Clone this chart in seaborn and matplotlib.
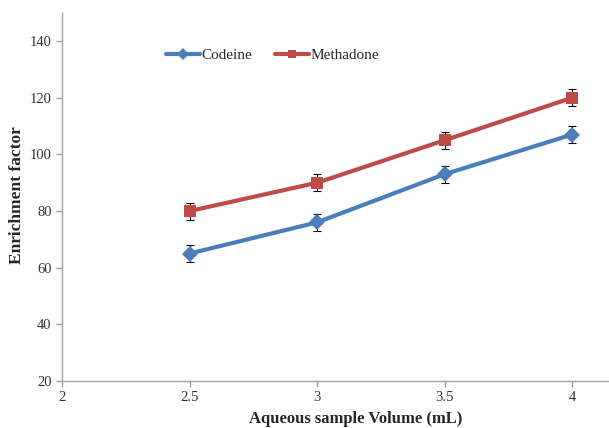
import pandas as pd
import matplotlib
matplotlib.use("Agg")
import matplotlib.pyplot as plt
import seaborn as sns

# dados
volume = [2.5, 3.0, 3.5, 4.0]
codeine = [65, 76, 93, 107]
methadone = [80, 90, 105, 120]
codeine_err = [3, 3, 3, 3]
methadone_err = [3, 3, 3, 3]

sns.set_style("white")
plt.rcParams['font.family'] = ['Liberation Serif', 'DejaVu Serif']

df = pd.DataFrame({
    "volume": volume * 2,
    "ef": codeine + methadone,
    "droga": ["Codeine"] * 4 + ["Methadone"] * 4,
})

fig = plt.figure(figsize=(6.09, 4.28), dpi=100)
ax = fig.add_axes([0.102, 0.110, 0.898, 0.860])

cores = {"Codeine": "#4A7EBB", "Methadone": "#BE4B48"}

# barras de erro primeiro, linhas por cima
ax.errorbar(volume, codeine, yerr=codeine_err, fmt="none", ecolor="black",
            elinewidth=0.8, capsize=3, capthick=0.8, zorder=2)
ax.errorbar(volume, methadone, yerr=methadone_err, fmt="none", ecolor="black",
            elinewidth=0.8, capsize=3, capthick=0.8, zorder=2)

sns.lineplot(data=df, x="volume", y="ef", hue="droga", style="droga",
             markers={"Codeine": "D", "Methadone": "s"}, dashes=False,
             palette=cores, linewidth=3, markersize=8, markeredgewidth=0,
             ax=ax, zorder=3)

ax.set_xlim(2, 4.145)
ax.set_ylim(20, 150)
ax.set_xticks([2, 2.5, 3, 3.5, 4])
ax.set_xticklabels(["2", "2.5", "3", "3.5", "4"])
ax.set_yticks([20, 40, 60, 80, 100, 120, 140])

ax.set_xlabel("Aqueous sample Volume (mL)", fontsize=12, fontweight="bold", va="center")
ax.set_ylabel("Enrichment factor", fontsize=12.5, fontweight="bold", va="center")
ax.xaxis.set_label_coords(0.537, -0.103)
ax.yaxis.set_label_coords(-0.082, 0.505)

for lado in ["top", "right"]:
    ax.spines[lado].set_visible(False)
for lado in ["left", "bottom"]:
    ax.spines[lado].set_color("#A0A0A0")
    ax.spines[lado].set_linewidth(1)
ax.tick_params(axis="both", direction="out", length=4, width=1, color="#A0A0A0",
               labelsize=10.5, labelcolor="#333333", left=True, bottom=True)

handles, labels = ax.get_legend_handles_labels()
ax.legend(handles, labels, loc="upper left", bbox_to_anchor=(0.165, 0.94), ncol=2,
          frameon=False, fontsize=11, handlelength=2.2, handletextpad=0.1,
          columnspacing=1.5, markerscale=0.8)

plt.savefig("out.png", dpi=100)
